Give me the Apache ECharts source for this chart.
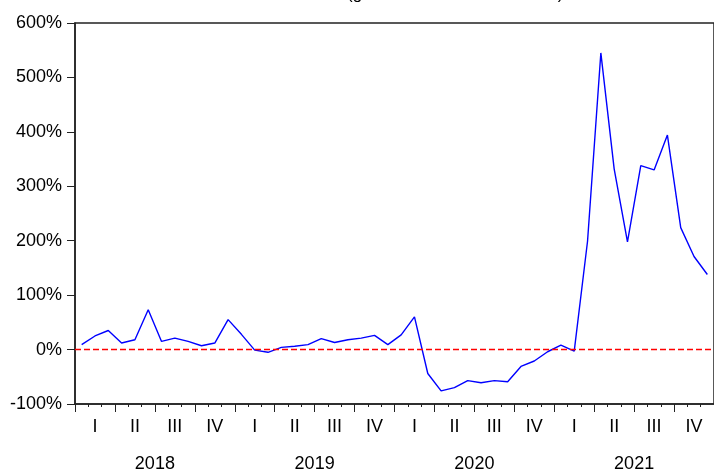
<!DOCTYPE html>
<html>
<head>
<meta charset="utf-8">
<script src="https://cdn.jsdelivr.net/npm/echarts@6/dist/echarts.min.js"></script>
<style>html,body{margin:0;padding:0;background:#fff;}#c{width:714px;height:473px;}</style>
</head>
<body>
<div id="c"></div>
<script>
// ---- data ----
var years = ['2018', '2019', '2020', '2021'];
var quarterLabels = ['I', 'II', 'III', 'IV'];
var monthNames = ['01','02','03','04','05','06','07','08','09','10','11','12'];
var growth2018 = [9, 25, 35, 12, 18, 73, 15, 21, 15, 7, 12, 55];
var growth2019 = [28, -1, -5, 4, 6, 9, 20, 13, 18, 21, 26, 9];
var growth2020 = [27, 60, -44, -76, -70, -57, -61, -57, -59, -31, -21, -4];
var growth2021 = [8, -3, 199, 545, 332, 198, 338, 330, 394, 224, 171, 138];
var yTicks = {min: -100, max: 600, step: 100};
var titleText = '(growth rate vs same month)';

// ---- build ----
var months = [], quarters = [];
years.forEach(function (y) {
  monthNames.forEach(function (m) { months.push(y + '-' + m); });
  quarterLabels.forEach(function (q) { quarters.push(y + '-' + q); });
});
var values = [].concat(growth2018, growth2019, growth2020, growth2021);

var FONT = "'Liberation Sans', Arial, sans-serif";
var AX = '#222';
var chart = echarts.init(document.getElementById('c'), null, {renderer: 'canvas'});
chart.setOption({
  animation: false,
  backgroundColor: '#fff',
  title: {
    text: titleText,
    left: 342, top: -19,
    textStyle: {fontFamily: FONT, fontSize: 17, fontWeight: 'normal', color: '#000'}
  },
  grid: {
    left: 75, top: 23, width: 643, height: 385,
    show: true, borderColor: AX, borderWidth: 1.5, backgroundColor: 'transparent'
  },
  xAxis: [
    {
      type: 'category', data: months, boundaryGap: true, position: 'bottom',
      axisLine: {show: true, onZero: false, lineStyle: {color: AX, width: 1.5}},
      axisTick: {show: true, interval: 0, length: 3, lineStyle: {color: AX, width: 1}},
      axisLabel: {show: false},
      splitLine: {show: false}
    },
    {
      type: 'category', data: quarters, boundaryGap: true, position: 'bottom',
      axisLine: {show: false, onZero: false},
      axisTick: {show: true, interval: 0, length: 8, lineStyle: {color: AX, width: 1}},
      axisLabel: {
        show: true, interval: 0, margin: 14,
        fontFamily: FONT, fontSize: 18, color: '#000',
        formatter: function (v) { return v.split('-')[1]; }
      },
      splitLine: {show: false}
    },
    {
      type: 'category', data: years, boundaryGap: true, position: 'bottom',
      axisLine: {show: false, onZero: false},
      axisTick: {show: false},
      axisLabel: {show: true, interval: 0, margin: 51, fontFamily: FONT, fontSize: 18, color: '#000'},
      splitLine: {show: false}
    }
  ],
  yAxis: {
    type: 'value', min: yTicks.min, max: yTicks.max, interval: yTicks.step,
    axisLine: {show: true, lineStyle: {color: AX, width: 1.5}},
    axisTick: {show: true, length: 8, lineStyle: {color: AX, width: 1}},
    axisLabel: {margin: 13, fontFamily: FONT, fontSize: 18, color: '#000', formatter: '{value}%'},
    splitLine: {show: false}
  },
  series: [{
    type: 'line', data: values, xAxisIndex: 0, yAxisIndex: 0,
    showSymbol: false, symbol: 'none',
    lineStyle: {color: '#0000ff', width: 1.4},
    itemStyle: {color: '#0000ff'},
    markLine: {
      silent: true, symbol: 'none', label: {show: false},
      lineStyle: {color: '#ff0000', width: 1.3, type: [6, 3], opacity: 1},
      emphasis: {disabled: true},
      data: [{yAxis: 0, lineStyle: {color: '#ff0000'}}]
    }
  }]
});
</script>
</body>
</html>
